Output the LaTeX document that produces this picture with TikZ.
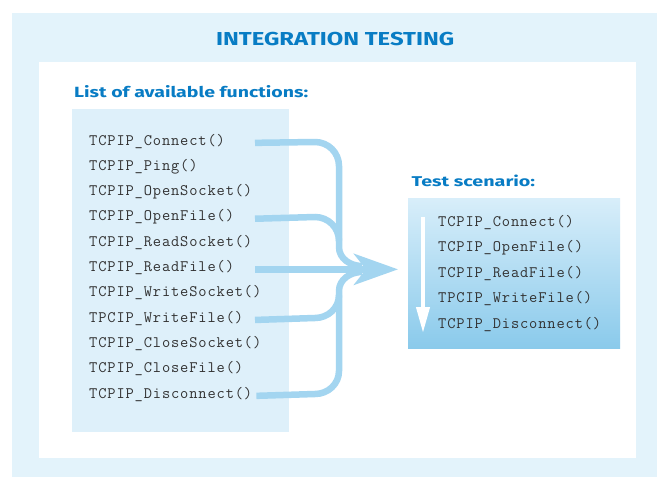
\documentclass[tikz,border=0pt]{standalone}
\usepackage{fontspec}
\setsansfont{Fira Sans}
\newfontfamily\codefont{Latin Modern Mono}[LetterSpace=5.4]
\usetikzlibrary{arrows.meta}
\definecolor{bgblue}{RGB}{227,243,251}
\definecolor{boxblue}{RGB}{222,240,250}
\definecolor{linkblue}{RGB}{163,213,240}
\definecolor{titleblue}{RGB}{8,124,196}
\definecolor{codegray}{RGB}{50,50,50}
\definecolor{gradtop}{RGB}{216,238,250}
\definecolor{gradbot}{RGB}{138,202,235}
\begin{document}
\begin{tikzpicture}[x=1pt,y=-1pt,
  code/.style={anchor=base west, inner sep=0pt, font=\codefont\fontsize{16}{19}\selectfont, text=codegray},
  head/.style={anchor=base west, inner sep=0pt, text=titleblue, font=\sffamily\bfseries},
  panel/.style={draw=none, inner sep=0pt, anchor=north west},
  conn/.style={draw=linkblue, line width=6.5pt},
  bigtip/.style={-{Stealth[length=44pt, width=31pt, inset=12pt]}}
]
\useasboundingbox (0,0) rectangle (665,488);
\fill[white] (0,0) rectangle (665,488);
% panels
\node[panel, fill=bgblue, minimum width=645pt, minimum height=464pt] (outer) at (12,13) {};
\node[panel, fill=white, minimum width=597pt, minimum height=396pt] (inner) at (39,62) {};
\node[panel, fill=boxblue, minimum width=217pt, minimum height=323pt] (lb) at (72,109) {};
\node[panel, top color=gradtop, bottom color=gradbot, minimum width=212pt, minimum height=150pt] (sc) at (408,198) {};
% headings
\node[head] (title) at (216,45) {\resizebox{238pt}{13.3pt}{INTEGRATION TESTING}};
\node[head] (lhead) at (74,97.3) {\resizebox{234pt}{12pt}{List of available functions:}};
\node[head] (shead) at (411.5,186.7) {\resizebox{123.5pt}{11.5pt}{Test scenario:}};
% list of functions
\node[code] (c1) at (89,145) {TCPIP\_Connect()};
\node[code] (c2) at (89,170.3) {TCPIP\_Ping()};
\node[code] (c3) at (89,195.6) {TCPIP\_OpenSocket()};
\node[code] (c4) at (89,220.9) {TCPIP\_OpenFile()};
\node[code] (c5) at (89,246.2) {TCPIP\_ReadSocket()};
\node[code] (c6) at (89,271.5) {TCPIP\_ReadFile()};
\node[code] (c7) at (89,296.8) {TCPIP\_WriteSocket()};
\node[code] (c8) at (89,322.1) {TPCIP\_WriteFile()};
\node[code] (c9) at (89,347.4) {TCPIP\_CloseSocket()};
\node[code] (c10) at (89,372.7) {TCPIP\_CloseFile()};
\node[code] (c11) at (89,398) {TCPIP\_Disconnect()};
% scenario
\node[code] (s1) at (438,226) {TCPIP\_Connect()};
\node[code] (s2) at (438,251.5) {TCPIP\_OpenFile()};
\node[code] (s3) at (438,277) {TCPIP\_ReadFile()};
\node[code] (s4) at (438,302.5) {TPCIP\_WriteFile()};
\node[code] (s5) at (438,328) {TCPIP\_Disconnect()};
\coordinate (st) at (423,217);
\coordinate (se) at (423,333);
\draw[white, line width=4pt, -{Triangle[length=26pt, width=13pt]}] (st) -- (se);
% connectors
\coordinate (L) at (255,0);
\coordinate (tip) at (398,0);
\draw[conn] (L |- c1.mid) -- (315,142) to[out=0,in=90] (339,166) -- (339,247) to[out=-90,in=180] (362,266);
\draw[conn] (L |- c4.mid) -- (315,217) to[out=0,in=90] (339,241);
\draw[conn] (L |- c8.mid) -- (315,318) to[out=0,in=-90] (339,295);
\draw[conn] ([xshift=4pt]c11.mid east) -- (315,394) to[out=0,in=-90] (339,371) -- (339,291) to[out=90,in=180] (362,272);
\draw[conn, bigtip] (L |- c6.mid) -- (tip |- c6.mid);
\end{tikzpicture}
\end{document}
